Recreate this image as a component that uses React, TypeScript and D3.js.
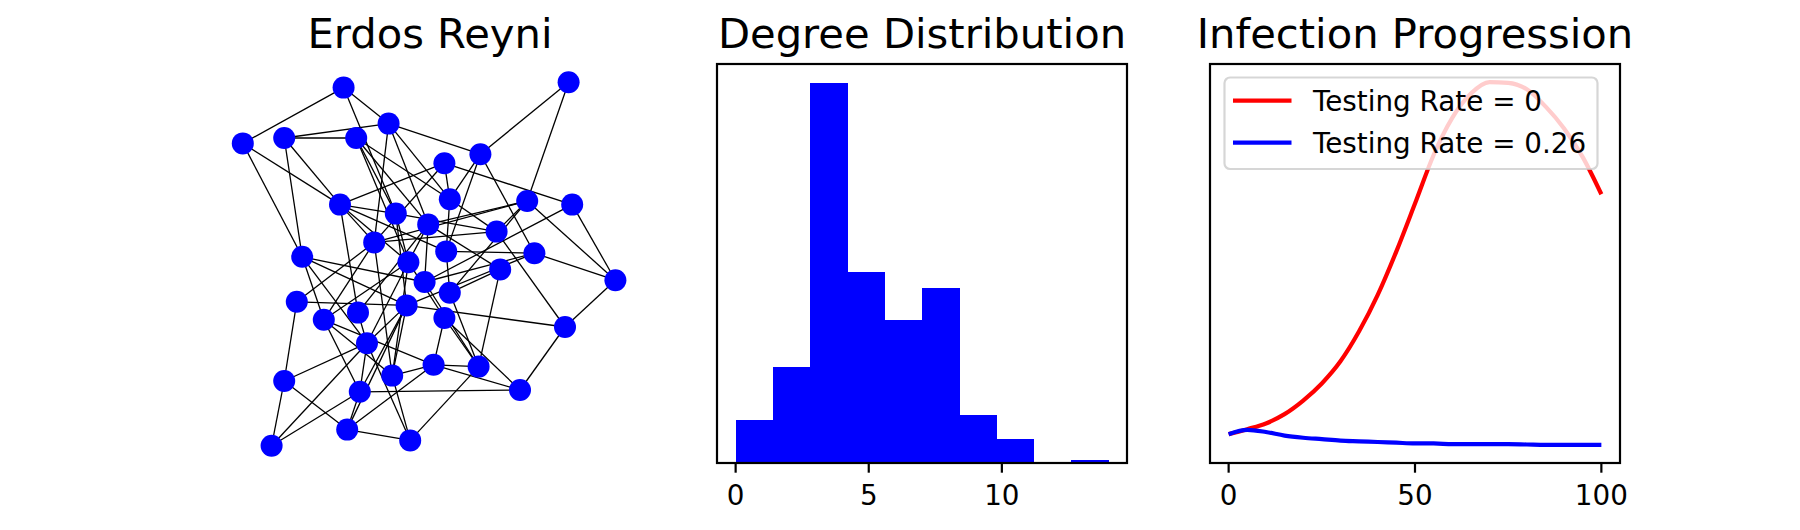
import * as d3 from "d3";

// network layout (spring-layout style coords) and edges
const nodeX = [-0.48, 0.77, -1.04, -0.81, -0.41, -0.23, 0.28, 0.08, -0.5, -0.19, 0.11, -0.01, 0.54, 0.79, 0.37, -0.31, 0.09, 0.58, -0.71, -0.12, 0.39, 1.03, -0.03, 0.11, -0.74, -0.59, -0.4, -0.13, 0.08, 0.75, -0.35, -0.81, -0.21, 0.02, 0.27, -0.39, 0.5, -0.46, -0.11, -0.88];
const nodeY = [0.98, 1.01, 0.67, 0.7, 0.7, 0.78, 0.61, 0.56, 0.33, 0.28, 0.36, 0.22, 0.35, 0.33, 0.18, 0.12, 0.07, 0.06, 0.04, 0.01, -0.03, -0.09, -0.1, -0.16, -0.21, -0.31, -0.27, -0.23, -0.3, -0.35, -0.44, -0.65, -0.62, -0.56, -0.57, -0.71, -0.7, -0.92, -0.98, -1.01];
const edges: [number, number][] = [
  [1, 3], [1, 6], [1, 10], [3, 9], [3, 19], [4, 19], [4, 9], [4, 5], [4, 6], [6, 7], [6, 16], [6, 12], [6, 11],
  [5, 20], [5, 12], [5, 11], [5, 10], [9, 8], [9, 10], [9, 27], [9, 20], [9, 17], [9, 16],
  [2, 7], [2, 13], [7, 18], [7, 11], [7, 17], [8, 11], [8, 14], [8, 16], [11, 17], [13, 15], [13, 22], [14, 22],
  [14, 23], [13, 12], [13, 24], [13, 16], [18, 22], [22, 30], [30, 37], [28, 30], [15, 30], [29, 37], [34, 37],
  [36, 37], [21, 35], [24, 35], [34, 35], [35, 39], [34, 38], [21, 24], [17, 18], [29, 34], [29, 35],
  [11, 15], [10, 15], [16, 15], [18, 23], [18, 28], [12, 23], [10, 20], [16, 33], [23, 35], [17, 24],
  [19, 28], [19, 23], [19, 26], [19, 31], [25, 32], [25, 28], [25, 16], [26, 20], [26, 16], [26, 36], [26, 34],
  [27, 31], [31, 28], [31, 20], [31, 36], [31, 39], [32, 40], [32, 38], [32, 31], [40, 36], [40, 31], [36, 28],
  [38, 39], [38, 36], [38, 28], [39, 33], [33, 28], [33, 20], [26, 33], [33, 34], [12, 20], [10, 28], [20, 29],
  [12, 27], [21, 12],
];

// degree histogram (10 bins over 0..14)
const degreeMin = 0;
const degreeMax = 14;
const degreeCounts = [32, 72, 285, 143, 107, 131, 36, 18, 0, 2];
const histTicks = [0, 5, 10];

// infection progression
const days = [0, 5, 10, 15, 20, 25, 30, 35, 40, 45, 50, 55, 60, 65, 70, 75, 80, 85, 90, 95, 100];
const infectedNoTesting = [27, 34, 42, 55, 74, 98, 129, 171, 222, 283, 350, 418, 470, 504, 520, 519, 510, 486, 455, 415, 363];
const infectedTesting = [27, 33, 30, 25, 22, 20, 18, 17, 16, 15, 14, 14, 13, 13, 13, 13, 12.5, 12, 12, 12, 12];
const lineTicks = [0, 50, 100];
const legendLabels = ["Testing Rate = 0", "Testing Rate = 0.26"];

const FONT = "DejaVu Sans, sans-serif";
const top = 64;
const bottom = 463;
const axW = 410;
const lefts = [225, 717, 1210];

export default function App() {
  // network
  const nx = d3.scaleLinear().domain([-1, 1]).range([250, 610]);
  const ny = d3.scaleLinear().domain([-1, 1]).range([444, 84]);

  // histogram
  const binW = (degreeMax - degreeMin) / degreeCounts.length;
  const pad = (degreeMax - degreeMin) * 0.05;
  const hx = d3.scaleLinear().domain([degreeMin - pad, degreeMax + pad]).range([lefts[1], lefts[1] + axW]);
  const hy = d3.scaleLinear().domain([0, d3.max(degreeCounts)! * 1.05]).range([bottom, top]);

  // infection
  const allVals = [...infectedNoTesting, ...infectedTesting];
  const lo = d3.min(allVals)!;
  const hi = d3.max(allVals)!;
  const yp = (hi - lo) * 0.05;
  const lx = d3.scaleLinear().domain([-5, 105]).range([lefts[2], lefts[2] + axW]);
  const ly = d3.scaleLinear().domain([lo - yp, hi + yp]).range([bottom, top]);
  const line = d3
    .line<number>()
    .x((d, i) => lx(days[i]))
    .y((d) => ly(d))
    .curve(d3.curveMonotoneX);

  const titles = ["Erdos Reyni", "Degree Distribution", "Infection Progression"];

  const xAxis = (scale: d3.ScaleLinear<number, number>, ticks: number[]) =>
    ticks.map((t) => (
      <g key={t}>
        <line x1={scale(t)} x2={scale(t)} y1={bottom} y2={bottom + 9.7} stroke="black" strokeWidth={2.2} />
        <text x={scale(t)} y={504.5} textAnchor="middle" fontSize={27.8} fontFamily={FONT}>
          {t}
        </text>
      </g>
    ));

  return (
    <svg width={1800} height={530} style={{ position: "absolute", left: 0, top: 0, background: "white" }}>
      {titles.map((t, i) => (
        <text key={t} x={lefts[i] + axW / 2} y={47.5} textAnchor="middle" fontSize={41.7} fontFamily={FONT}>
          {t}
        </text>
      ))}

      {/* network */}
      <g>
        {edges.map(([a, b], i) => (
          <line
            key={i}
            x1={nx(nodeX[a - 1])}
            y1={ny(nodeY[a - 1])}
            x2={nx(nodeX[b - 1])}
            y2={ny(nodeY[b - 1])}
            stroke="black"
            strokeWidth={1.3}
          />
        ))}
        {nodeX.map((x, i) => (
          <circle key={i} cx={nx(x)} cy={ny(nodeY[i])} r={11} fill="#0000ff" />
        ))}
      </g>

      {/* histogram */}
      <g shapeRendering="crispEdges">
        {degreeCounts.map((c, i) => (
          <rect
            key={i}
            x={hx(degreeMin + i * binW)}
            width={hx(degreeMin + (i + 1) * binW) - hx(degreeMin + i * binW) + 0.5}
            y={hy(c)}
            height={bottom - hy(c)}
            fill="#0000ff"
          />
        ))}
      </g>
      <g>
        <rect x={lefts[1]} y={top} width={axW} height={bottom - top} fill="none" stroke="black" strokeWidth={2.2} />
        {xAxis(hx, histTicks)}
      </g>

      {/* infection progression */}
      <g>
        <path d={line(infectedNoTesting)!} fill="none" stroke="#ff0000" strokeWidth={4.2} />
        <path d={line(infectedTesting)!} fill="none" stroke="#0000ff" strokeWidth={4.2} />
        <rect x={lefts[2]} y={top} width={axW} height={bottom - top} fill="none" stroke="black" strokeWidth={2.2} />
        {xAxis(lx, lineTicks)}
        <rect x={1224.5} y={77.5} width={373} height={91.5} rx={5.6} fill="white" fillOpacity={0.8} stroke="#cccccc" strokeOpacity={0.8} strokeWidth={2.2} />
        {legendLabels.map((lab, i) => (
          <g key={lab}>
            <line x1={1233} x2={1291.5} y1={100.7 + i * 42} y2={100.7 + i * 42} stroke={i === 0 ? "#ff0000" : "#0000ff"} strokeWidth={4.2} />
            <text x={1313} y={110.5 + i * 42} fontSize={27.8} fontFamily={FONT}>
              {lab}
            </text>
          </g>
        ))}
      </g>
    </svg>
  );
}
